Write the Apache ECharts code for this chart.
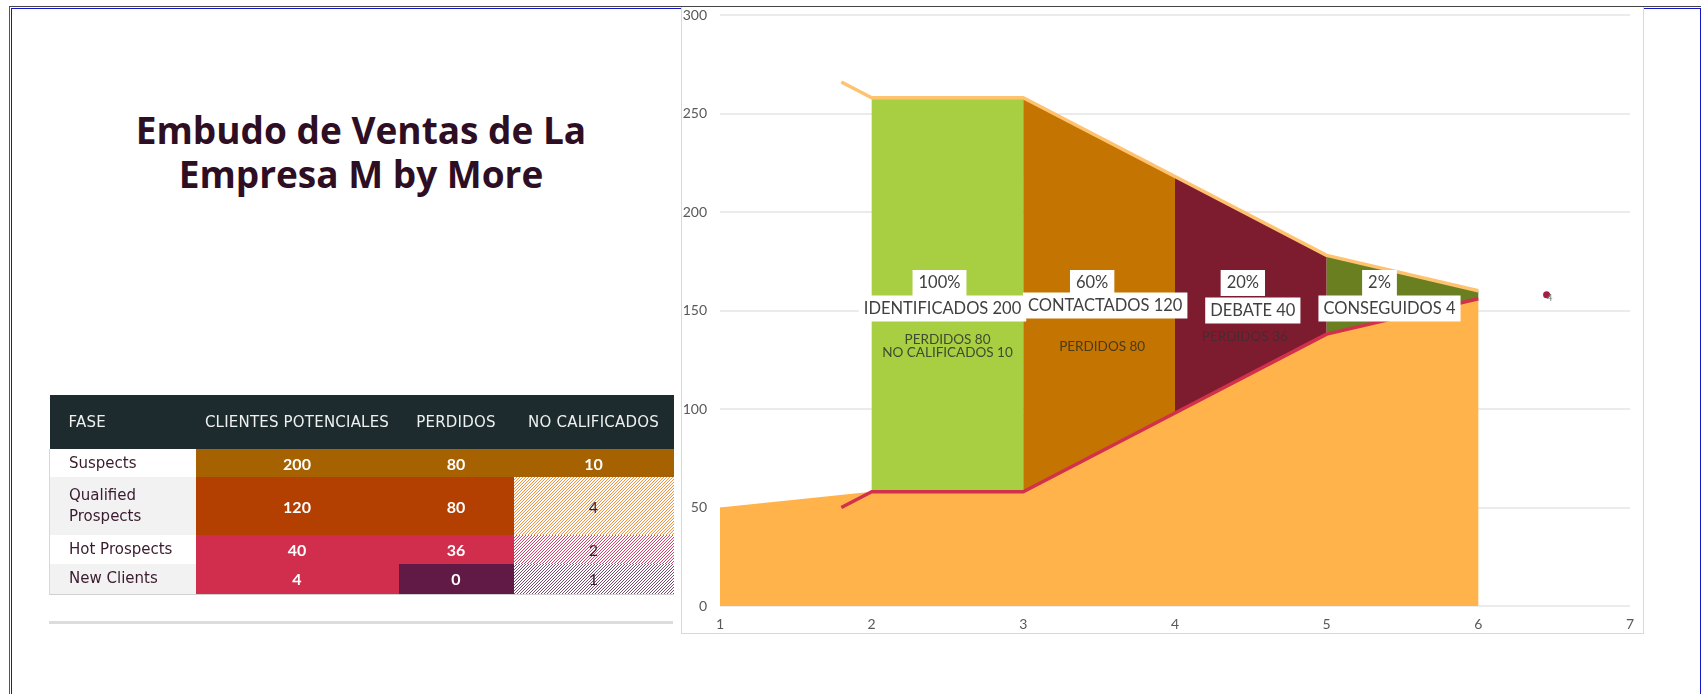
<!DOCTYPE html>
<html>
<head>
<meta charset="utf-8">
<script src="https://cdn.jsdelivr.net/npm/echarts@6/dist/echarts.min.js"></script>
<style>
  html, body { margin:0; padding:0; background:#fff; width:1701px; height:694px; overflow:hidden; }
  #frameOuter { position:absolute; left:9px; top:6px; width:1700px; height:700px; border-left:1px solid #555; border-top:1px solid #444; }
  #frameInner { position:absolute; left:11px; top:8px; width:1688px; height:700px; border-left:1px solid #1515c8; border-top:1px solid #1515c8; border-right:1px solid #1515c8; }
  #chartBox { position:absolute; left:681px; top:7px; width:961px; height:626px; background:#fff; border:1.5px solid #d9d9d9; border-top:none; }
  #chart { position:absolute; left:0; top:0; width:1701px; height:694px; }
  #title { position:absolute; left:61px; width:600px; top:108px; text-align:center; font-family:'Open Sans', sans-serif; font-weight:700; font-size:37px; line-height:44px; color:#2e0e22; }
  #tbl { position:absolute; left:49px; top:395px; border-collapse:collapse; font-family:'DejaVu Sans', sans-serif; z-index:3; }
  #tbl td, #tbl th { padding:0; }
  #tbl th { background:#1d2b2e; color:#eef0f0; font-weight:normal; font-size:15px; height:54px; text-align:center; letter-spacing:0.2px; }
  #tbl th.first { text-align:left; padding-left:19px; }
  #tbl td.lab { color:#3a1a2e; font-size:15px; padding-left:19px; line-height:21px; border-left:1px solid #d8d8d8; }
  #tbl td.num { color:#fff; font-family:'Lato', sans-serif; font-weight:700; font-size:16px; text-align:center; }
  #tbl td.hatch { color:#3a1a2e; font-family:'Lato', sans-serif; font-size:16px; text-align:center; background-repeat:repeat; }
  #tbl tr.last td { border-bottom:1px solid #d0d0d0; }
  #rule { position:absolute; left:49px; top:621px; width:624px; height:3px; background:#dcdcdc; }
</style>
</head>
<body>
<div id="frameOuter"></div>
<div id="frameInner"></div>
<div id="chartBox"></div>
<div id="title"></div>
<table id="tbl"></table>
<div id="rule"></div>
<div id="chart"></div>
<script>
// ---------------- DATA ----------------
const titleLines = ['Embudo de Ventas de La', 'Empresa M by More'];
const tableHeaders = ['FASE', 'CLIENTES POTENCIALES', 'PERDIDOS', 'NO CALIFICADOS'];
const fases = ['Suspects', 'Qualified Prospects', 'Hot Prospects', 'New Clients'];
const clientes = [200, 120, 40, 4];
const perdidos = [80, 80, 36, 0];
const noCalificados = [10, 4, 2, 1];

const stageNames = ['IDENTIFICADOS', 'CONTACTADOS', 'DEBATE', 'CONSEGUIDOS'];
const stagePct = ['100%', '60%', '20%', '2%'];

// funnel outline
const funnelX = [2, 3, 4, 5, 6];
const funnelBase = [58, 58, 98, 138, 156];
const funnelTop = [258, 258, 218, 178, 160];

// lead-in points of the two outline lines
const leadX = 1.8;
const leadTop = 266;
const leadBottom = 50;

// orange base area
const baseAreaX = [1, 2, 3, 4, 5, 6, 6];
const baseAreaY = [50, 58, 58, 98, 138, 156, 0];

// stray point at the right
const strayPoint = [6.45, 158];
const strayLabel = '4';

const xTicks = [1, 2, 3, 4, 5, 6, 7];
const yTicks = [0, 50, 100, 150, 200, 250, 300];

// ---------------- STYLES ----------------
const segColors = ['#a8ce42', '#c47400', '#7d1c2e', '#6a7f1f'];
const noteColors = ['#404a30', '#4a3a18', '#4a2a32'];
const pctOffsets = [[-8, 0], [-7, 0], [-8, 0], [-23, 0]];
const nameOffsets = [[-5, 0], [6, -3], [2, 2], [-13, 0]];
const noteOffsets = [[0, 0], [3, 1], [-6, -9]];
const cellColors = [
  ['#a66200', '#a66200', '#a66200'],
  ['#b33f00', '#b33f00', null],
  ['#d02e4c', '#d02e4c', null],
  ['#d02e4c', '#611a45', null]
];
const hatchColors = [null, '#f5913f', '#d8436a', '#7a4a70'];
const labelBg = [null, '#f2f2f2', '#ffffff', '#f2f2f2'];
const rowHeights = [28, 58, 29, 30];
const colWidths = [146, 203, 115, 160];

function hatchTile(c) {
  const svg = '<svg xmlns="http://www.w3.org/2000/svg" width="3" height="3" shape-rendering="crispEdges">' +
    '<rect width="3" height="3" fill="#ffffff"/>' +
    '<rect x="2" y="0" width="1" height="1" fill="' + c + '"/>' +
    '<rect x="1" y="1" width="1" height="1" fill="' + c + '"/>' +
    '<rect x="0" y="2" width="1" height="1" fill="' + c + '"/></svg>';
  return 'url("data:image/svg+xml,' + encodeURIComponent(svg) + '")';
}

// ---------------- TITLE + TABLE ----------------
document.getElementById('title').innerHTML = titleLines.join('<br>');
(function buildTable(){
  const t = document.getElementById('tbl');
  let html = '<tr>';
  tableHeaders.forEach((h, i) => {
    html += `<th class="${i===0?'first':''}" style="width:${colWidths[i] - (i===0?19:0)}px">${h}</th>`;
  });
  html += '</tr>';
  fases.forEach((f, r) => {
    html += `<tr class="${r===fases.length-1?'last':''}" style="height:${rowHeights[r]}px">`;
    html += `<td class="lab" style="background:${labelBg[r] || '#fff'}">${f}</td>`;
    const vals = [clientes[r], perdidos[r], noCalificados[r]];
    vals.forEach((v, c) => {
      const col = cellColors[r][c];
      if (col) {
        html += `<td class="num" style="background:${col}">${v}</td>`;
      } else {
        html += `<td class="hatch" data-row="${r}">${v}</td>`;
      }
    });
    html += '</tr>';
  });
  t.innerHTML = html;
  t.querySelectorAll('td.hatch').forEach(td => {
    td.style.backgroundImage = hatchTile(hatchColors[+td.dataset.row]);
  });
})();

// ---------------- CHART ----------------
const chart = echarts.init(document.getElementById('chart'), null, { renderer: 'canvas' });

const segData = [];
for (let i = 0; i < funnelX.length - 1; i++) {
  segData.push({
    value: [funnelX[i], funnelX[i+1], funnelBase[i], funnelBase[i+1], funnelTop[i], funnelTop[i+1]],
    itemStyle: { color: segColors[i] }
  });
}

const topLine = [[leadX, leadTop]].concat(funnelX.map((x, i) => [x, funnelTop[i]]));
const bottomLine = [[leadX, leadBottom]].concat(funnelX.map((x, i) => [x, funnelBase[i]]));
const baseArea = baseAreaX.map((x, i) => [x, baseAreaY[i]]);

const mid = i => (funnelX[i] + funnelX[i+1]) / 2;
const labelFont = 'Lato';
const boxLabel = {
  show: true, position: 'inside', color: '#404040', fontFamily: labelFont, fontSize: 16.5,
  backgroundColor: '#ffffff', padding: [5, 6, 4, 6], opacity: 1
};
const pctData = stagePct.map((p, i) => ({
  value: [mid(i), 164],
  label: Object.assign({}, boxLabel, { formatter: p, offset: pctOffsets[i] })
}));
const nameData = stageNames.map((n, i) => ({
  value: [mid(i), 151],
  label: Object.assign({}, boxLabel, { formatter: n + ' ' + clientes[i], offset: nameOffsets[i], padding: [5, 5, 4, 5] })
}));
const noteTexts = [
  'PERDIDOS ' + perdidos[0] + '\nNO CALIFICADOS ' + noCalificados[0],
  'PERDIDOS ' + perdidos[1],
  'PERDIDOS ' + perdidos[2]
];
const noteData = noteTexts.map((t, i) => ({
  value: [mid(i), 132],
  label: { show: true, position: 'inside', formatter: t, color: noteColors[i], fontFamily: labelFont,
           fontSize: 13.5, lineHeight: 13, offset: noteOffsets[i], opacity: 1 }
}));

const labelSeries = (data, z) => ({
  type: 'scatter', z: z, symbolSize: 0, data: data, silent: true,
  itemStyle: { opacity: 1 }, emphasis: { disabled: true }
});

const option = {
  animation: false,
  grid: { left: 720, right: 71, top: 15, bottom: 88, containLabel: false },
  xAxis: {
    type: 'value', min: xTicks[0], max: xTicks[xTicks.length-1], interval: 1,
    axisLine: { show: false }, axisTick: { show: false }, splitLine: { show: false },
    axisLabel: { color: '#595959', fontFamily: labelFont, fontSize: 14, margin: 11 }
  },
  yAxis: {
    type: 'value', min: yTicks[0], max: yTicks[yTicks.length-1], interval: 50,
    axisLine: { show: false }, axisTick: { show: false },
    splitLine: { show: true, lineStyle: { color: '#e4e4e4', width: 1.6 } },
    axisLabel: { color: '#595959', fontFamily: labelFont, fontSize: 14, margin: 13 }
  },
  series: [
    {
      type: 'line', data: baseArea, symbol: 'none', z: 1,
      lineStyle: { width: 0 }, areaStyle: { color: '#ffb34a', opacity: 1 }
    },
    {
      type: 'custom', z: 2, data: segData,
      renderItem: function (params, api) {
        const x0 = api.value(0), x1 = api.value(1);
        const pts = [
          api.coord([x0, api.value(2)]), api.coord([x1, api.value(3)]),
          api.coord([x1, api.value(5)]), api.coord([x0, api.value(4)])
        ];
        return { type: 'polygon', shape: { points: pts }, style: { fill: api.visual('color') } };
      }
    },
    {
      type: 'line', data: topLine, symbol: 'none', z: 3,
      lineStyle: { color: '#ffc26e', width: 3.5 }
    },
    {
      type: 'line', data: bottomLine, symbol: 'none', z: 3,
      lineStyle: { color: '#d3304c', width: 3.5 }
    },
    {
      type: 'scatter', z: 4, data: [strayPoint], symbolSize: 7,
      itemStyle: { color: '#a52040', opacity: 1 },
      label: { show: true, position: 'inside', formatter: strayLabel, offset: [3, 3], color: '#777', fontSize: 10, fontFamily: labelFont }
    },
    labelSeries(noteData, 5),
    labelSeries(pctData, 6),
    labelSeries(nameData, 6)
  ]
};
chart.setOption(option);
</script>
</body>
</html>
